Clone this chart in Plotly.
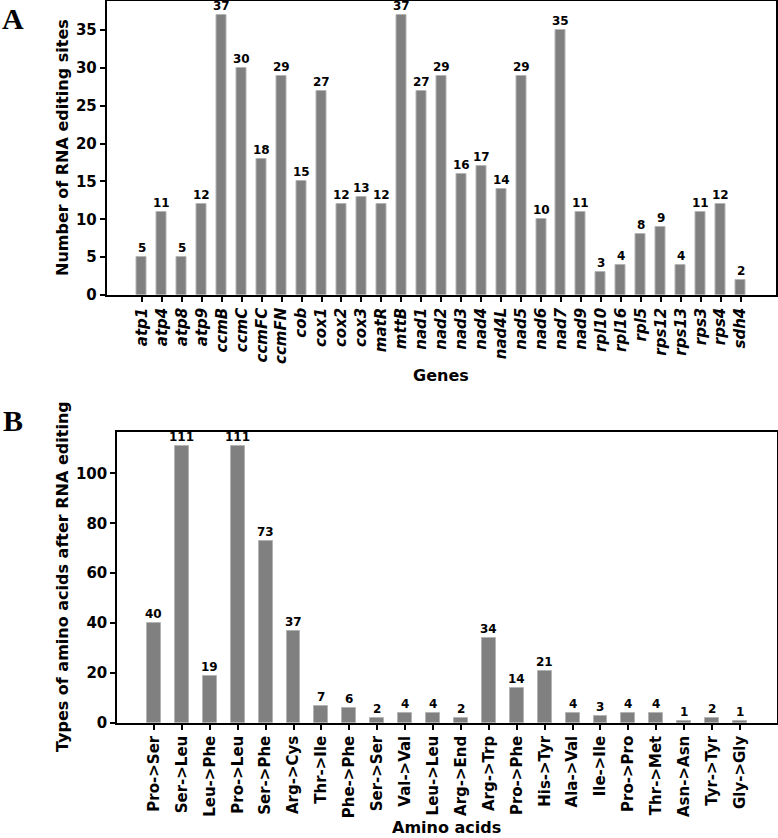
import plotly.graph_objects as go

genes = ['atp1','atp4','atp8','atp9','ccmB','ccmC','ccmFC','ccmFN','cob','cox1','cox2','cox3','matR','mttB',
         'nad1','nad2','nad3','nad4','nad4L','nad5','nad6','nad7','nad9','rpl10','rpl16','rpl5','rps12','rps13',
         'rps3','rps4','sdh4']
gene_sites = [5,11,5,12,37,30,18,29,15,27,12,13,12,37,27,29,16,17,14,29,10,35,11,3,4,8,9,4,11,12,2]

amino = ['Pro->Ser','Ser->Leu','Leu->Phe','Pro->Leu','Ser->Phe','Arg->Cys','Thr->Ile','Phe->Phe','Ser->Ser',
         'Val->Val','Leu->Leu','Arg->End','Arg->Trp','Pro->Phe','His->Tyr','Ala->Val','Ile->Ile','Pro->Pro',
         'Thr->Met','Asn->Asn','Tyr->Tyr','Gly->Gly']
amino_counts = [40,111,19,111,73,37,7,6,2,4,4,2,34,14,21,4,3,4,4,1,2,1]

A_yticks = [0,5,10,15,20,25,30,35]
B_yticks = [0,20,40,60,80,100]

W, H = 778, 838
FONT = "DejaVu Sans"
BAR = "#808080"
EDGE = "#b4b4b4"

fig = go.Figure()
fig.add_trace(go.Bar(
    x=genes, y=gene_sites, width=0.5, xaxis="x", yaxis="y",
    marker=dict(color=BAR, line=dict(color=EDGE, width=1)),
    showlegend=False, hoverinfo="x+y"))
fig.add_trace(go.Bar(
    x=amino, y=amino_counts, width=0.5, xaxis="x2", yaxis="y2",
    marker=dict(color=BAR, line=dict(color=EDGE, width=1)),
    showlegend=False, hoverinfo="x+y"))

# value labels above bars, positioned through the data axes
for cats, vals, xr, yr in ((genes, gene_sites, "x", "y"), (amino, amino_counts, "x2", "y2")):
    for c, v in zip(cats, vals):
        fig.add_annotation(x=c, y=v, xref=xr, yref=yr, text=str(v), showarrow=False,
                           xanchor="center", yanchor="bottom", yshift=0,
                           font=dict(family=FONT, size=12, color="black", weight="bold"))

ax_common = dict(showline=True, linecolor="black", linewidth=1.5, mirror=True, showgrid=False,
                 zeroline=False, ticks="outside", ticklen=5, tickwidth=1.5, tickcolor="black",
                 automargin=False)

nA = len(genes)
nB = len(amino)
padA = 0.05 * (nA - 0.5)
padB = 0.05 * (nB - 0.5)

fig.update_layout(
    width=W, height=H, margin=dict(l=0, r=0, t=0, b=0), autosize=False,
    plot_bgcolor="white", paper_bgcolor="white", bargap=0,
    xaxis=dict(**ax_common, domain=[106.5/W, 776/W], anchor="y", type="category",
               range=[-0.25 - padA, nA - 0.75 + padA], tickangle=-90,
               tickfont=dict(family=FONT, size=15, color="black", weight="bold", style="italic")),
    yaxis=dict(**ax_common, domain=[1 - 295/H, 1 - 1/H], anchor="x",
               range=[0, max(gene_sites) * 1.05], tickvals=A_yticks,
               tickfont=dict(family=FONT, size=15, color="black", weight="bold")),
    xaxis2=dict(**ax_common, domain=[117/W, 777/W], anchor="y2", type="category",
                range=[-0.25 - padB, nB - 0.75 + padB], tickangle=-90,
                tickfont=dict(family=FONT, size=15, color="black", weight="bold")),
    yaxis2=dict(**ax_common, domain=[1 - 723/H, 1 - 432/H], anchor="x2",
                range=[0, max(amino_counts) * 1.05], tickvals=B_yticks,
                tickfont=dict(family=FONT, size=15, color="black", weight="bold")),
)

def px_ann(text, x, y, size, family=FONT, angle=0, weight="bold"):
    fig.add_annotation(text=text, x=x / W, y=1 - y / H, xref="paper", yref="paper",
                       showarrow=False, textangle=angle, xanchor="center", yanchor="middle",
                       font=dict(family=family, size=size, color="black", weight=weight))

px_ann("Number of RNA editing sites", 62, 148, 16, angle=-90)
px_ann("Genes", 441, 375, 16)
px_ann("Types of amino acids after RNA editing", 62, 577, 16, angle=-90)
px_ann("Amino acids", 447, 827, 16)
px_ann("A", 13, 18, 30, family="Liberation Serif")
px_ann("B", 13, 420, 30, family="Liberation Serif")

fig.write_html("out.html")
